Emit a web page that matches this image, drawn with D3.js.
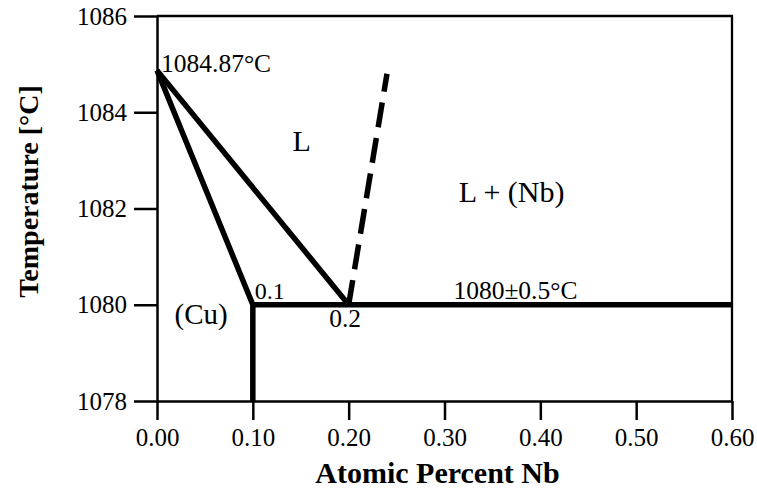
<!DOCTYPE html>
<html><head><meta charset="utf-8">
<script src="https://cdn.jsdelivr.net/npm/d3@7"></script>
<style>body{margin:0;background:#fff}svg{display:block}text{font-family:"Liberation Serif","Times New Roman",serif;fill:#000}</style>
</head><body><svg id="c" width="757" height="490"></svg>
<script>
const xTicks = [0, 0.1, 0.2, 0.3, 0.4, 0.5, 0.6];
const yTicks = [1078, 1080, 1082, 1084, 1086];
const liquidus = [[0, 1084.87], [0.2, 1080]];
const solidus = [[0, 1084.87], [0.1, 1080], [0.1, 1078]];
const eutectic = [[0.1, 1080], [0.6, 1080]];
const nbLiquidus = [[0.2, 1080], [0.24, 1084.8]];
const labels = [
  {t: "1084.87°C", x: 0.0, y: 1084.87, dx: 4, dy: 2, anchor: "start", size: 25.5},
  {t: "L", x: 0.15, y: 1084.0, dx: 1, dy: 38.5, anchor: "middle", size: 30},
  {t: "L + (Nb)", x: 0.37, y: 1082.0, dx: 0, dy: -7, anchor: "middle", size: 30},
  {t: "(Cu)", x: 0.046, y: 1080, dx: 0, dy: 19, anchor: "middle", size: 29},
  {t: "0.1", x: 0.1, y: 1080, dx: 2, dy: -6, anchor: "start", size: 24},
  {t: "0.2", x: 0.2, y: 1080, dx: -3.5, dy: 22.5, anchor: "middle", size: 25.5},
  {t: "1080±0.5°C", x: 0.374, y: 1080, dx: 0, dy: -6, anchor: "middle", size: 25.5}
];

const svg = d3.select("#c");
const m = {l: 157, r: 25, t: 16, b: 89};
const W = 757, H = 490;
const x = d3.scaleLinear().domain([0, 0.6]).range([m.l, W - m.r]);
const y = d3.scaleLinear().domain([1078, 1086]).range([H - m.b, m.t]);

// frame
svg.append("path").attr("d", `M${x(0)},${y(1086)}H${x(0.6)}V${y(1078)}`)
  .attr("fill", "none").attr("stroke", "#000").attr("stroke-width", 2.3);

const xa = svg.append("g").attr("transform", `translate(0,${y(1078)})`)
  .call(d3.axisBottom(x).tickValues(xTicks).tickFormat(d3.format(".2f")).tickSize(19).tickSizeOuter(0).tickPadding(8));
const ya = svg.append("g").attr("transform", `translate(${x(0)},0)`)
  .call(d3.axisLeft(y).tickValues(yTicks).tickFormat(d3.format("d")).tickSize(23).tickSizeOuter(0).tickPadding(7));
[xa, ya].forEach(g => {
  g.select(".domain").attr("stroke-width", 2.5);
  g.selectAll(".tick line").attr("stroke-width", 2.5);
  g.selectAll(".tick text").attr("font-size", 25).attr("font-family", "Liberation Serif");
});

const line = d3.line().x(d => x(d[0])).y(d => y(d[1]));
function draw(data, dash) {
  const p = svg.append("path").attr("d", line(data))
    .attr("stroke", "#000").attr("stroke-width", 5.5).attr("fill", "none").attr("stroke-linejoin", "miter");
  if (dash) p.attr("stroke-dasharray", dash);
}
draw(liquidus); draw(solidus); draw(eutectic); draw(nbLiquidus, "25,11");

labels.forEach(l => {
  svg.append("text").attr("x", x(l.x) + l.dx).attr("y", y(l.y) + l.dy)
    .attr("text-anchor", l.anchor).attr("font-size", l.size).text(l.t);
});

svg.append("text").attr("x", (x(0) + x(0.6)) / 2 - 7).attr("y", 482.5)
  .attr("text-anchor", "middle").attr("font-weight", "bold").attr("font-size", 30).text("Atomic Percent Nb");
svg.append("text").attr("transform", `translate(37.5,191.5)rotate(-90)`)
  .attr("text-anchor", "middle").attr("font-weight", "bold").attr("font-size", 28).text("Temperature [°C]");
</script></body></html>
